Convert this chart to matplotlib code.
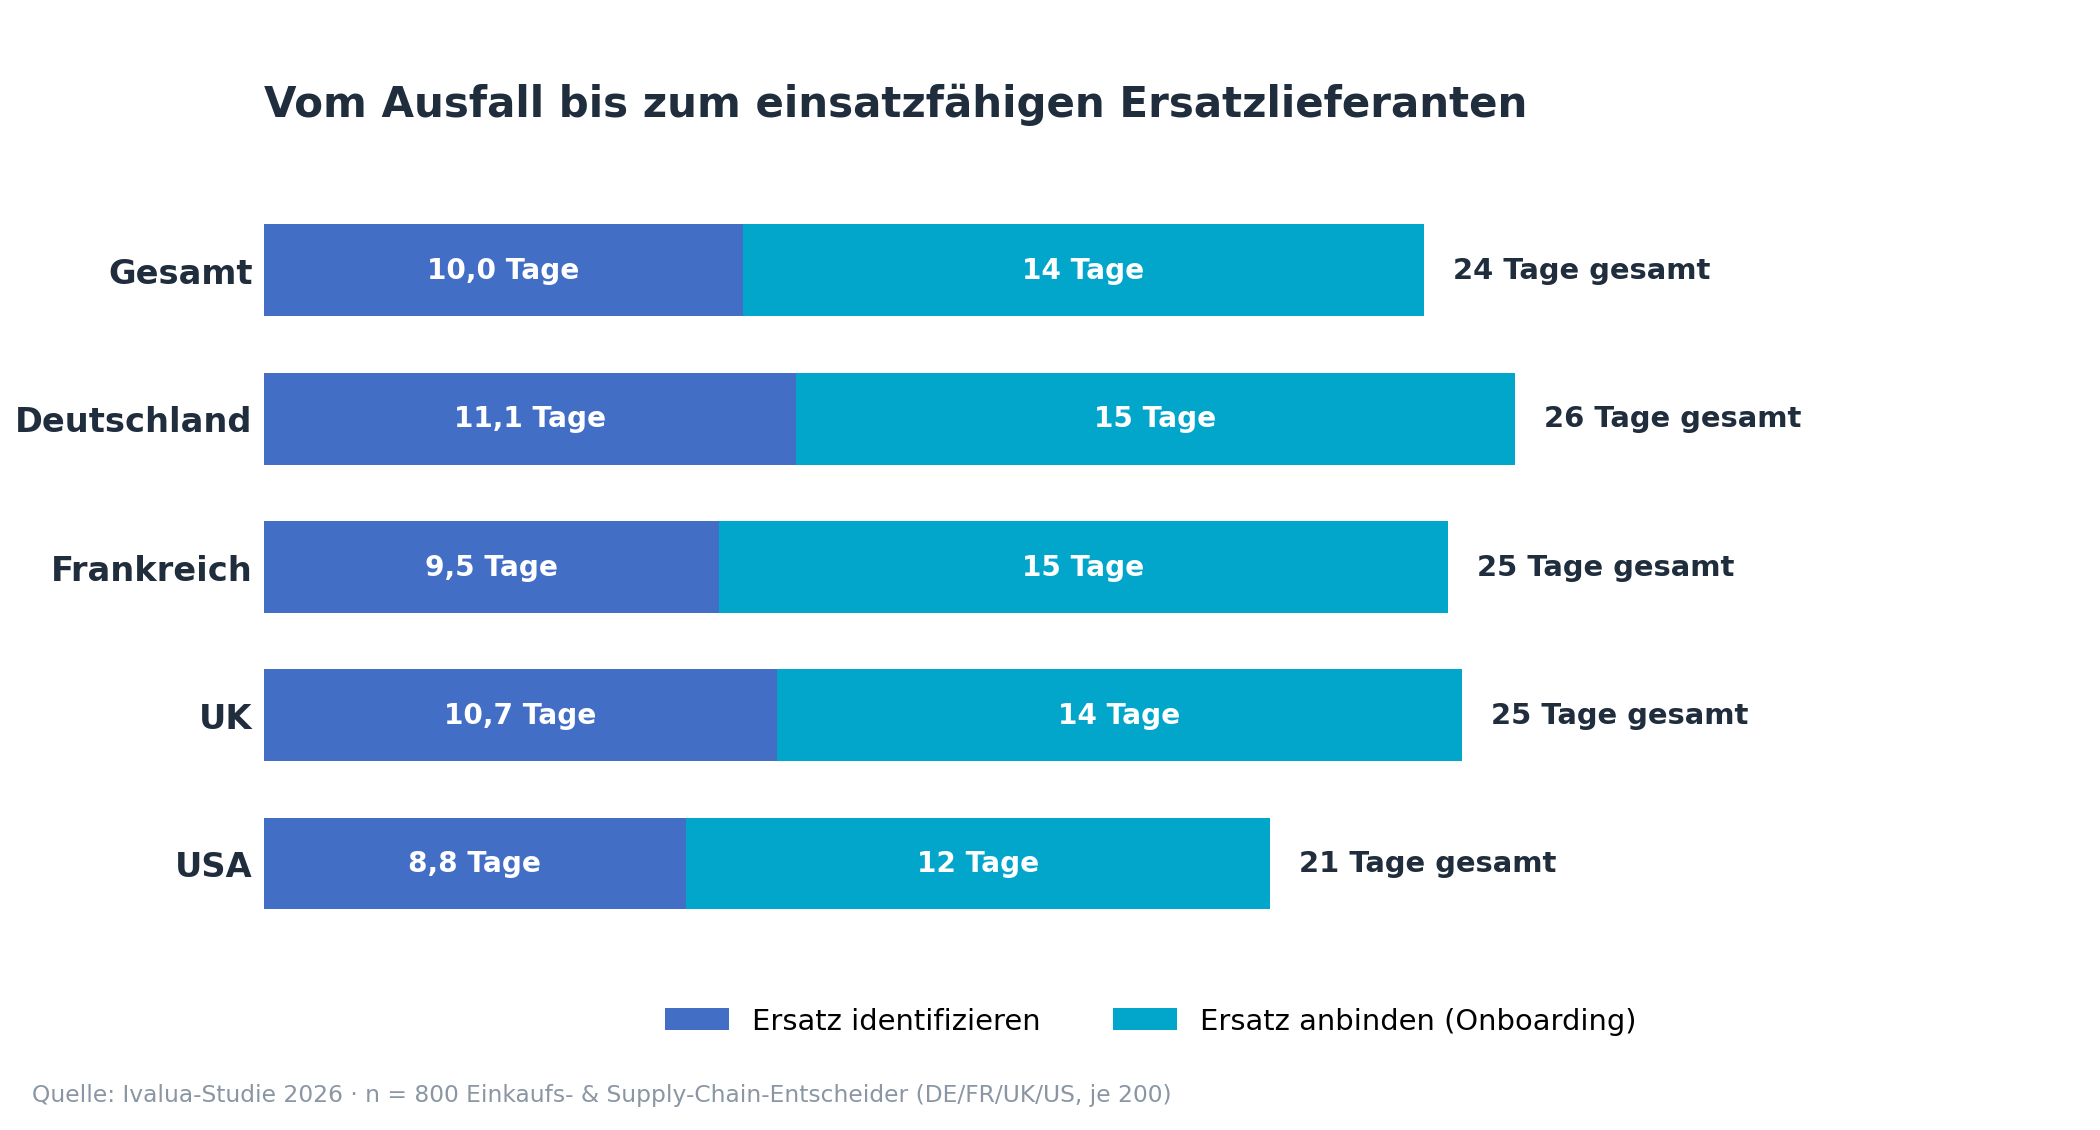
import matplotlib
matplotlib.use("Agg")
import matplotlib.pyplot as plt

categories = ["Gesamt", "Deutschland", "Frankreich", "UK", "USA"]
identify = [10.0, 11.1, 9.5, 10.7, 8.8]
onboard = [14.2, 15.0, 15.2, 14.3, 12.2]
identify_labels = ["10,0 Tage", "11,1 Tage", "9,5 Tage", "10,7 Tage", "8,8 Tage"]
onboard_labels = ["14 Tage", "15 Tage", "15 Tage", "14 Tage", "12 Tage"]
total_labels = ["24 Tage gesamt", "26 Tage gesamt", "25 Tage gesamt", "25 Tage gesamt", "21 Tage gesamt"]

c1, c2 = "#436EC6", "#02A6CB"
dark = "#1F2D3D"

fig = plt.figure(figsize=(15.6, 8.4), dpi=2100/15.6)
ax = fig.add_axes([0.1256, 0.157, 0.8674, 0.682])
y = list(range(len(categories)))
ax.barh(y, identify, height=0.62, color=c1, label="Ersatz identifizieren")
ax.barh(y, onboard, left=identify, height=0.62, color=c2, label="Ersatz anbinden (Onboarding)")
for i in y:
    a, b = identify[i], onboard[i]
    ax.text(a/2, i, identify_labels[i], ha="center", va="center", color="white", fontsize=15, fontweight="bold")
    ax.text(a + b/2, i, onboard_labels[i], ha="center", va="center", color="white", fontsize=15, fontweight="bold")
    ax.text(a + b + 0.6, i, total_labels[i], ha="left", va="center", color=dark, fontsize=15.5, fontweight="bold")
ax.set_xlim(0, 38)
ax.set_ylim(4.6, -0.6)
ax.set_yticks(y)
ax.set_yticklabels(categories, fontsize=18, fontweight="bold", color=dark)
ax.tick_params(axis="y", length=0, pad=6)
ax.set_xticks([])
for s in ax.spines.values():
    s.set_visible(False)

fig.text(0.1256, 0.907, "Vom Ausfall bis zum einsatzfähigen Ersatzlieferanten", fontsize=22.5,
         fontweight="bold", color=dark, ha="left", va="center")
fig.legend(loc="center", bbox_to_anchor=(0.548, 0.096), ncol=2, frameon=False, fontsize=15.5,
           handlelength=2.2, handleheight=0.8, columnspacing=2.5)
fig.text(0.015, 0.031, "Quelle: Ivalua-Studie 2026 · n = 800 Einkaufs- & Supply-Chain-Entscheider (DE/FR/UK/US, je 200)",
         fontsize=12.5, color="#8A96A3", ha="left", va="center")
fig.savefig("out.png", dpi=2100/15.6, facecolor="white")
